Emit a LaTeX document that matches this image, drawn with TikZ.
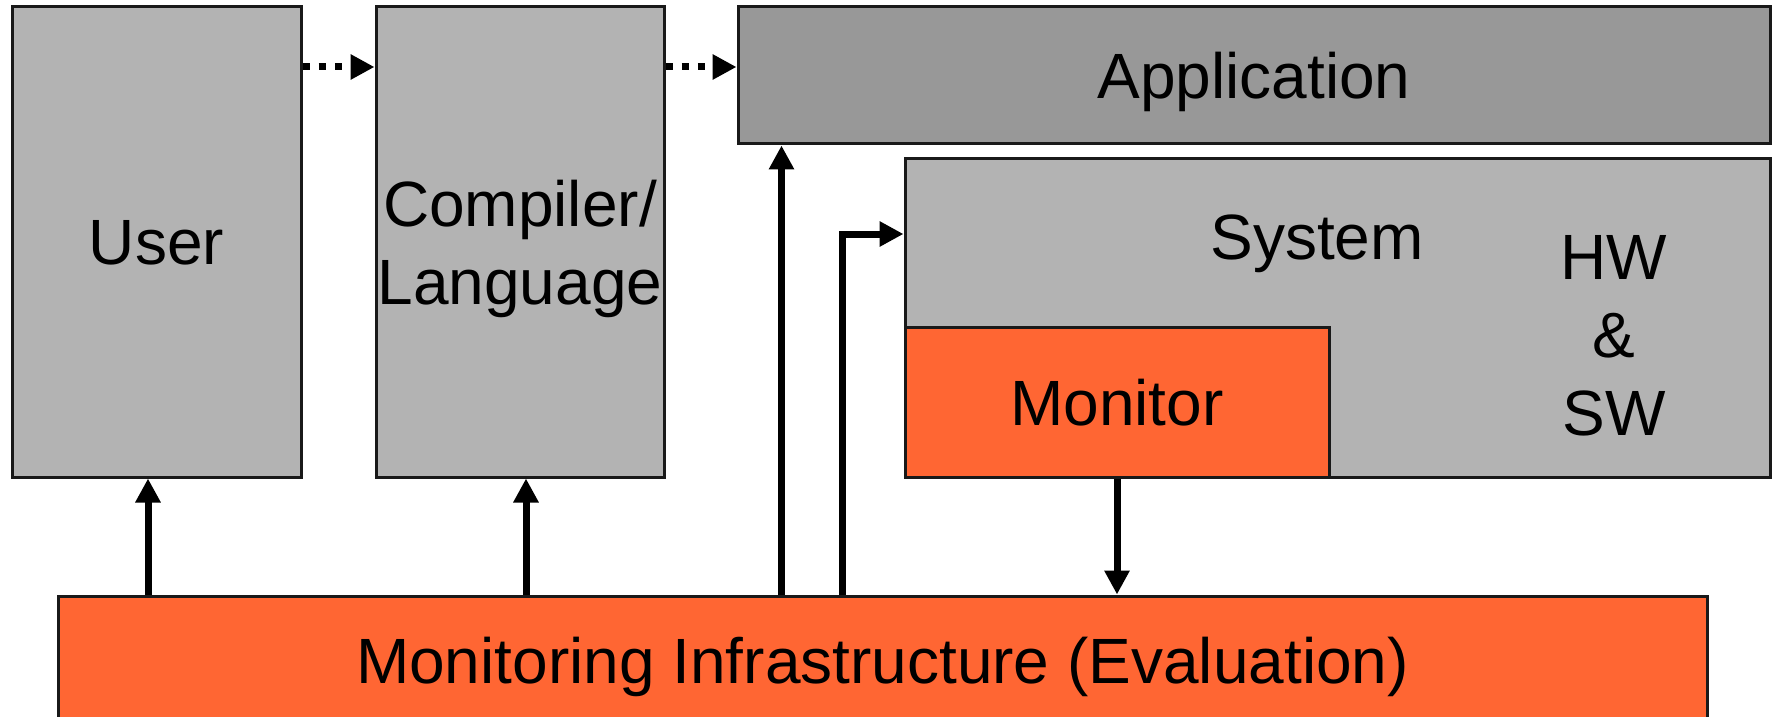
\documentclass[tikz,border=0pt]{standalone}
\usepackage{fontspec}
\setmainfont{Liberation Sans}
\usetikzlibrary{arrows.meta}
\definecolor{cgray}{RGB}{179,179,179}
\definecolor{cdark}{RGB}{152,152,152}
\definecolor{corange}{RGB}{255,102,51}
\tikzset{layer/.style={x=0.5pt,y=-0.5pt,font=\fontsize{32}{39}\selectfont},
  blk/.style={draw=black!90,line width=1.5pt,fill=cgray,inner sep=0pt,align=center,text depth=0pt},
  flow/.style={line width=3.5pt,-{Triangle[length=12pt,width=12pt]}},
  hint/.style={flow,dash pattern=on 3.5pt off 4.6pt}}

\begin{document}
\begin{tikzpicture}[layer]
    \useasboundingbox (0,0) rectangle (1773,717);
    \node[blk,minimum width=144.5pt,minimum height=235pt] (user) at (156.5,242) {User};
    \node[blk,minimum width=144pt,minimum height=235pt] (comp) at (520,242) {Compiler/\\Language};
    \node[blk,fill=cdark,minimum width=516pt,minimum height=68.5pt] (app) at (1254,75.5) {Application};
    \node[blk,minimum width=432.5pt,minimum height=159pt] (sys) at (1337.5,318) {};
    \node[blk,fill=corange,minimum width=212pt,minimum height=75pt] (mon) at (1117,402) {Monitor};
    \node[blk,fill=corange,minimum width=824.5pt,minimum height=64pt] (infra) at (882.5,660) {Monitoring Infrastructure (Evaluation)};
    \node[text depth=0pt] (systxt) at (1317,237) {System};
    \node[align=center] (hwsw) at (1614,336) {HW\\\&\\SW};
    \draw[hint] ([yshift=87.5pt]user.east) -- ([yshift=87.5pt]comp.west);
    \draw[hint] ([yshift=87.5pt]comp.east) -- ([yshift=4.25pt]app.west);
    \draw[flow] ([xshift=-4.25pt]user.south |- infra.north) -- ([xshift=-4.25pt]user.south);
    \draw[flow] ([xshift=3pt]comp.south |- infra.north) -- ([xshift=3pt]comp.south);
    \draw[flow] ([xshift=22.5pt]app.south west |- infra.north) -- ([xshift=22.5pt]app.south west);
    \draw[flow] ([xshift=-30.5pt]sys.west |- infra.north) |- ([yshift=42pt]sys.west);
    \draw[flow] (mon.south) -- (mon.south |- infra.north);
\end{tikzpicture}
\end{document}
